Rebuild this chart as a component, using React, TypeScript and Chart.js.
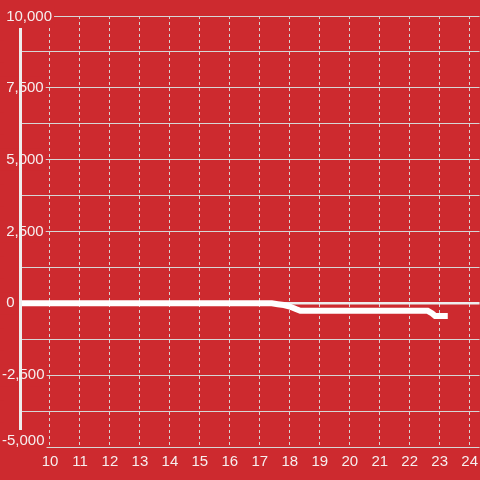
import React, { useEffect, useRef } from 'react';
import { Chart, registerables } from 'chart.js';

Chart.register(...registerables);

// ---- data ----
const seriesX = [8.9, 17.4, 17.6, 17.8, 18.0, 18.2, 18.35, 22.6, 22.75, 22.85, 23.27];
const seriesY = [0, 0, -30, -60, -110, -200, -260, -260, -350, -440, -440];
const xTickValues = [10, 11, 12, 13, 14, 15, 16, 17, 18, 19, 20, 21, 22, 23, 24];
const xMin = 9;
const xMax = 24.33;
const yMin = -5000;
const yMax = 10000;
const yStep = 1250;
const yLabelStep = 2500;

const RED = '#cd2a2f';
const GRID = '#d6d6d6';
const BAR = '#eeeeee';
const TEXT = '#f6eeee';
const FONT = "'Liberation Sans', Arial, sans-serif";

const fmt = (n: number) => {
  const s = Math.abs(n).toLocaleString('en-US');
  return n < 0 ? '-' + s : ' ' + s;
};

export default function App() {
  const ref = useRef<HTMLCanvasElement | null>(null);

  useEffect(() => {
    document.body.style.margin = '0';
    document.body.style.background = RED;
    const canvas = ref.current;
    if (!canvas) return;
    const labelTicks = {
      mirror: true,
      crossAlign: 'near',
      padding: -18,
      color: TEXT,
      font: { size: 15, family: FONT },
      showLabelBackdrop: true,
      backdropColor: RED,
      backdropPadding: 2,
      autoSkip: false,
    };
    const edgeAxis = (value: number, weight: number, offset: number) => ({
      type: 'linear',
      position: 'left',
      weight,
      min: yMin,
      max: yMax,
      afterBuildTicks: (s: any) => {
        s.ticks = [{ value }];
      },
      afterFit: (s: any) => {
        s.width = 0;
      },
      grid: { display: false, drawTicks: false },
      border: { display: false },
      ticks: {
        ...labelTicks,
        z: 2,
        labelOffset: offset,
        callback: (v: any) => fmt(Number(v)),
      },
    });
    const chart = new Chart(canvas, {
      type: 'line',
      data: {
        datasets: [
          {
            data: seriesX.map((x, i) => ({ x, y: seriesY[i] })),
            borderColor: '#ffffff',
            borderWidth: 6,
            pointRadius: 0,
            tension: 0,
            fill: false,
          },
        ],
      },
      options: {
        animation: false,
        responsive: false,
        events: [],
        layout: { padding: { left: 2, top: 16, right: 0, bottom: 7 } },
        plugins: { legend: { display: false }, tooltip: { enabled: false } },
        scales: {
          x: {
            type: 'linear',
            min: xMin,
            max: xMax,
            afterBuildTicks: (s: any) => {
              s.ticks = xTickValues.map((v) => ({ value: v }));
            },
            grid: {
              color: GRID,
              lineWidth: 1,
              drawTicks: true,
              tickLength: 4,
              tickColor: 'rgba(0,0,0,0)',
            },
            border: { display: false, dash: [3, 3] },
            ticks: {
              z: 3,
              color: TEXT,
              font: { size: 15, family: FONT },
              padding: 2,
              maxRotation: 0,
              autoSkip: false,
              callback: (v: any) => String(v),
            },
          },
          y: {
            type: 'linear',
            position: 'left',
            weight: 2,
            min: yMin,
            max: yMax,
            afterFit: (s: any) => {
              s.width = 18;
            },
            grid: {
              color: (c: any) => (c.tick && c.tick.value === 0 ? BAR : GRID),
              lineWidth: (c: any) => (c.tick && c.tick.value === 0 ? 2.5 : 1),
              drawTicks: false,
            },
            border: { display: true, color: BAR, width: 3, z: 1 },
            ticks: {
              ...labelTicks,
              stepSize: yStep,
              callback: (v: any) => {
                const n = Number(v);
                if (n % yLabelStep !== 0 || n === yMin || n === yMax) return '';
                return fmt(n);
              },
            },
          },
          yTop: edgeAxis(yMax, 0, 1),
          yBottom: edgeAxis(yMin, 1, -6),
        },
      },
    });
    return () => chart.destroy();
  }, []);

  return (
    <div style={{ width: 480, height: 480, background: RED }}>
      <canvas ref={ref} width={480} height={480} style={{ display: 'block' }} />
    </div>
  );
}
